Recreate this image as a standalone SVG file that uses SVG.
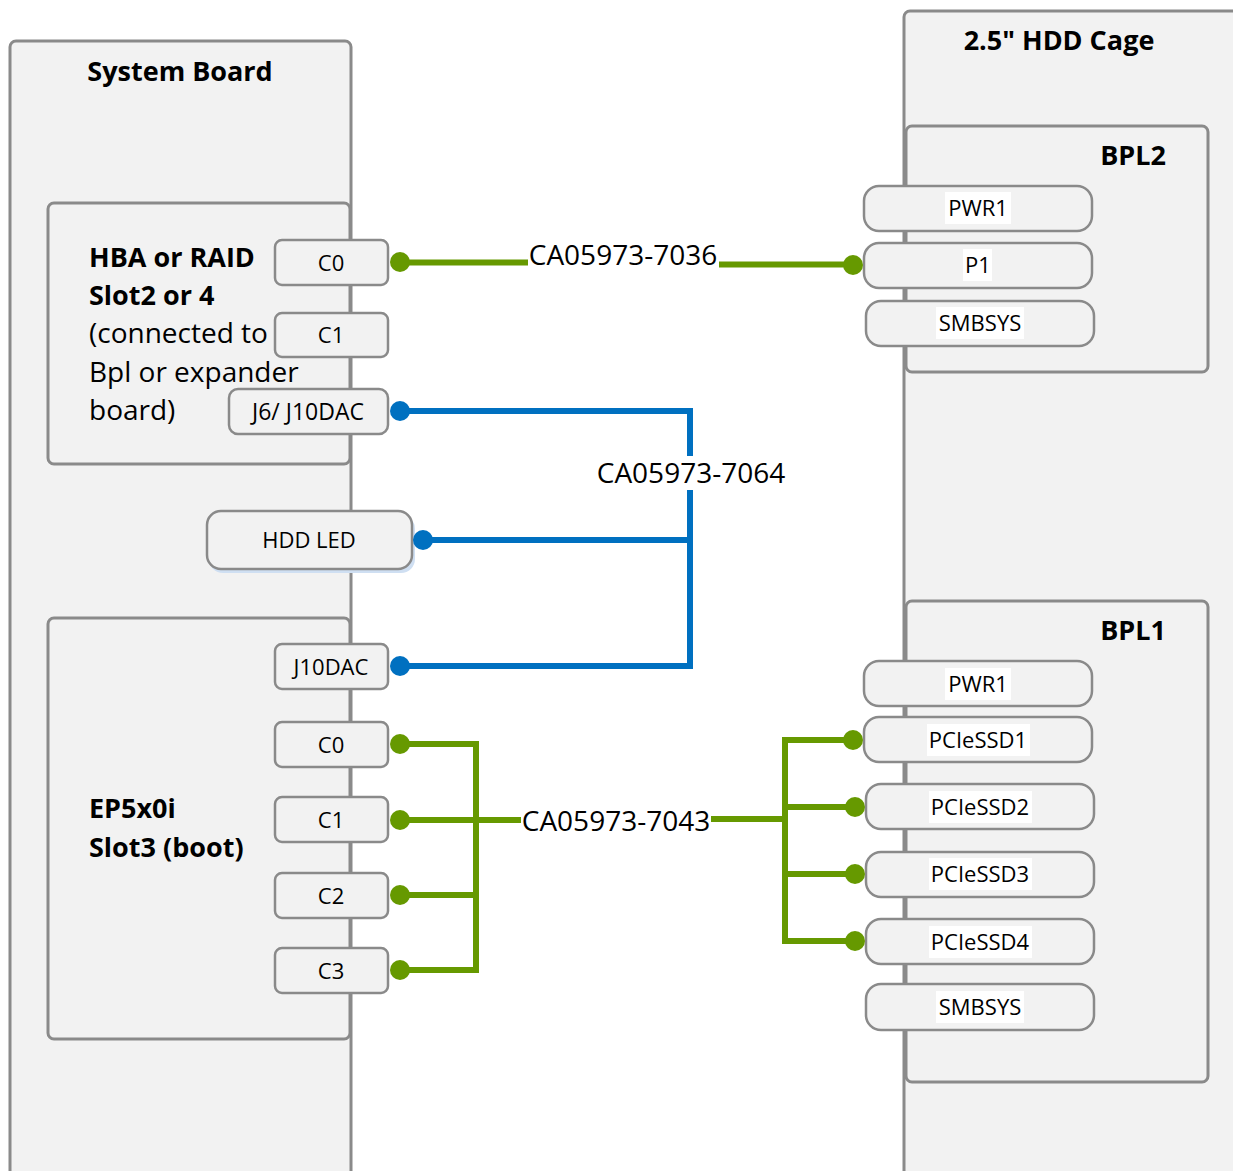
<svg xmlns="http://www.w3.org/2000/svg" width="1233" height="1171" viewBox="0 0 1233 1171">
<style>
  text { font-family: "Open Sans", "Noto Sans", "DejaVu Sans", sans-serif; fill: #000; }
  .frame { fill: #f2f2f2; stroke: #8a8a8a; stroke-width: 3; }
  .port { fill: #f2f2f2; stroke: #8a8a8a; stroke-width: 2.5; }
  .title { font-size: 27px; font-weight: bold; }
  .body { font-size: 28px; }
  .pl { font-size: 22px; text-anchor: middle; }
  .hl { fill: #ffffff; }
  .cable { font-size: 28px; text-anchor: middle; }
  .g { fill: none; stroke: #669900; stroke-width: 6; }
  .b { fill: none; stroke: #0070c0; stroke-width: 6; }
  .gd { fill: #669900; }
  .bd { fill: #0070c0; }
</style>

<g id="hdd-cage">
  <rect class="frame" x="904" y="11" width="360" height="1200" rx="6"/>
  <text class="title" x="1059" y="50" text-anchor="middle">2.5" HDD Cage</text>
</g>

<g id="bpl2">
  <rect class="frame" x="906" y="126" width="302" height="246" rx="6"/>
  <text class="title" x="1166" y="165" text-anchor="end">BPL2</text>
</g>
<g id="bpl2-pwr1">
  <rect class="port" x="864" y="186" width="228" height="45" rx="15"/>
  <rect class="hl" x="945" y="192" width="66" height="32"/>
  <text class="pl" x="978" y="216">PWR1</text>
</g>
<g id="bpl2-p1">
  <rect class="port" x="864" y="243" width="228" height="45" rx="15"/>
  <rect class="hl" x="963" y="249" width="29" height="32"/>
  <text class="pl" x="978" y="273">P1</text>
</g>
<g id="bpl2-smbsys">
  <rect class="port" x="866" y="301" width="228" height="45" rx="15"/>
  <rect class="hl" x="936" y="307" width="88" height="32"/>
  <text class="pl" x="980" y="331">SMBSYS</text>
</g>

<g id="bpl1">
  <rect class="frame" x="906" y="601" width="302" height="481" rx="6"/>
  <text class="title" x="1166" y="640" text-anchor="end">BPL1</text>
</g>
<g id="bpl1-pwr1">
  <rect class="port" x="864" y="661" width="228" height="45" rx="15"/>
  <rect class="hl" x="945" y="668" width="66" height="32"/>
  <text class="pl" x="978" y="692">PWR1</text>
</g>
<g id="bpl1-pcie1">
  <rect class="port" x="864" y="717" width="228" height="45" rx="15"/>
  <rect class="hl" x="927" y="724" width="103" height="32"/>
  <text class="pl" x="978" y="748">PCIeSSD1</text>
</g>
<g id="bpl1-pcie2">
  <rect class="port" x="866" y="784" width="228" height="45" rx="15"/>
  <rect class="hl" x="929" y="791" width="103" height="32"/>
  <text class="pl" x="980" y="815">PCIeSSD2</text>
</g>
<g id="bpl1-pcie3">
  <rect class="port" x="866" y="852" width="228" height="45" rx="15"/>
  <rect class="hl" x="929" y="858" width="103" height="32"/>
  <text class="pl" x="980" y="882">PCIeSSD3</text>
</g>
<g id="bpl1-pcie4">
  <rect class="port" x="866" y="919" width="228" height="45" rx="15"/>
  <rect class="hl" x="929" y="926" width="103" height="32"/>
  <text class="pl" x="980" y="950">PCIeSSD4</text>
</g>
<g id="bpl1-smbsys">
  <rect class="port" x="866" y="984" width="228" height="46" rx="15"/>
  <rect class="hl" x="936" y="991" width="88" height="32"/>
  <text class="pl" x="980" y="1015">SMBSYS</text>
</g>

<g id="system-board">
  <rect class="frame" x="10" y="41" width="341" height="1200" rx="6"/>
  <text class="title" x="180" y="81" text-anchor="middle">System Board</text>
</g>

<g id="hba">
  <rect class="frame" x="48" y="203" width="302" height="261" rx="6"/>
  <text class="title" x="89" y="267">HBA or RAID</text>
  <text class="title" x="89" y="305">Slot2 or 4</text>
  <text class="body" x="89" y="343">(connected to</text>
  <text class="body" x="89" y="382">Bpl or expander</text>
  <text class="body" x="89" y="420">board)</text>
</g>
<g id="hba-c0">
  <rect class="port" x="275" y="240" width="113" height="45" rx="7"/>
  <text class="pl" x="331" y="271">C0</text>
</g>
<g id="hba-c1">
  <rect class="port" x="275" y="313" width="113" height="44" rx="7"/>
  <text class="pl" x="331" y="343">C1</text>
</g>
<g id="hba-j6">
  <rect class="port" x="229" y="389" width="159" height="45" rx="9"/>
  <text class="pl" x="308" y="420" style="font-size:23px">J6/ J10DAC</text>
</g>

<g id="hdd-led">
  <rect x="209" y="515" width="206" height="58" rx="14" fill="#cfdff2"/>
  <rect class="port" x="207" y="511" width="205" height="58" rx="14"/>
  <text class="pl" x="309" y="548">HDD LED</text>
</g>

<g id="ep5x0i">
  <rect class="frame" x="48" y="618" width="302" height="421" rx="6"/>
  <text class="title" x="89" y="818">EP5x0i</text>
  <text class="title" x="89" y="857">Slot3 (boot)</text>
</g>
<g id="ep-j10dac">
  <rect class="port" x="275" y="644" width="113" height="45" rx="7"/>
  <text class="pl" x="331" y="675">J10DAC</text>
</g>
<g id="ep-c0">
  <rect class="port" x="275" y="722" width="113" height="45" rx="7"/>
  <text class="pl" x="331" y="753">C0</text>
</g>
<g id="ep-c1">
  <rect class="port" x="275" y="797" width="113" height="45" rx="7"/>
  <text class="pl" x="331" y="828">C1</text>
</g>
<g id="ep-c2">
  <rect class="port" x="275" y="873" width="113" height="45" rx="7"/>
  <text class="pl" x="331" y="904">C2</text>
</g>
<g id="ep-c3">
  <rect class="port" x="275" y="948" width="113" height="45" rx="7"/>
  <text class="pl" x="331" y="979">C3</text>
</g>

<g id="connectors">
  <!-- CA05973-7036 -->
  <path class="g" d="M400 262.5 H528 M719 264.5 H853"/>
  <circle class="gd" cx="400" cy="262" r="10"/>
  <circle class="gd" cx="853" cy="265" r="10"/>
  <text class="cable" x="623" y="265">CA05973-7036</text>

  <!-- CA05973-7064 -->
  <path class="b" d="M400 411 H690 V666 H400 M423 540 H690"/>
  <circle class="bd" cx="400" cy="411" r="10"/>
  <circle class="bd" cx="423" cy="540" r="10"/>
  <circle class="bd" cx="400" cy="666" r="10"/>
  <rect x="596" y="456" width="190" height="34" fill="#ffffff"/>
  <text class="cable" x="691" y="483">CA05973-7064</text>

  <!-- CA05973-7043 -->
  <path class="g" d="M400 744 H476 V970 H400 M400 895 H476 M400 820 H521 M711 819 H785 M853 740 H785 V941 H855 M785 807 H855 M785 874 H855"/>
  <circle class="gd" cx="400" cy="744" r="10"/>
  <circle class="gd" cx="400" cy="820" r="10"/>
  <circle class="gd" cx="400" cy="895" r="10"/>
  <circle class="gd" cx="400" cy="970" r="10"/>
  <circle class="gd" cx="853" cy="740" r="10"/>
  <circle class="gd" cx="855" cy="807" r="10"/>
  <circle class="gd" cx="855" cy="874" r="10"/>
  <circle class="gd" cx="855" cy="941" r="10"/>
  <text class="cable" x="616" y="831">CA05973-7043</text>
</g>
</svg>
